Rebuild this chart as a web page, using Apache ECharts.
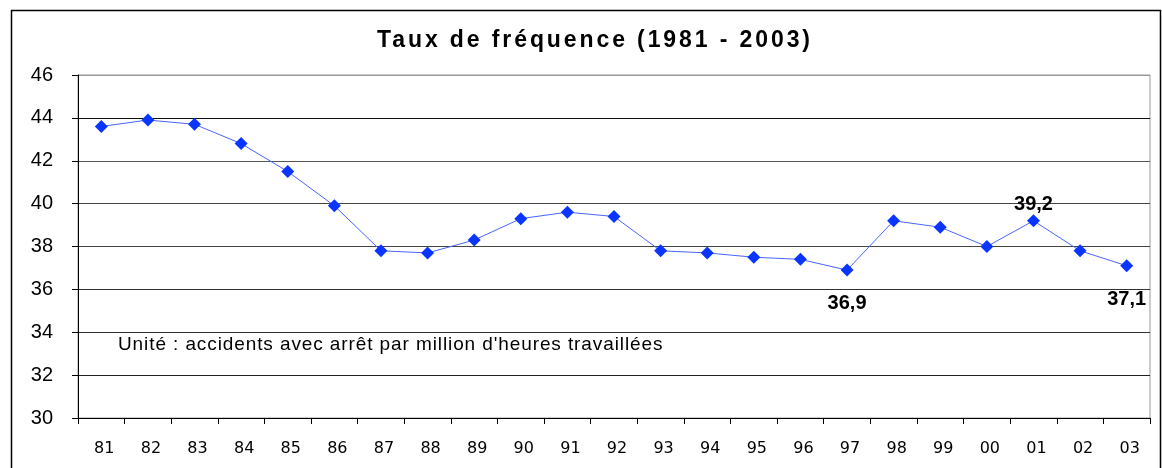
<!DOCTYPE html>
<html>
<head>
<meta charset="utf-8">
<script src="https://cdn.jsdelivr.net/npm/echarts@6/dist/echarts.min.js"></script>
<style>
html,body{margin:0;padding:0;background:#fff;}
#c{width:1162px;height:468px;}
</style>
</head>
<body>
<div id="c"></div>
<script>
const categories = ['81','82','83','84','85','86','87','88','89','90','91','92','93','94','95','96','97','98','99','00','01','02','03'];
const values = [43.6,43.9,43.7,42.8,41.5,39.9,37.8,37.7,38.3,39.3,39.6,39.4,37.8,37.7,37.5,37.4,36.9,39.2,38.9,38.0,39.2,37.8,37.1];
const labelledBelow = ['97','03'];
const labelledAbove = ['01'];
const titleText = 'Taux de fréquence (1981 - 2003)';
const noteText = "Unité : accidents avec arrêt par million d'heures travaillées";

// Emulate the wider letter spacing of the original rendering for the title and the note.
(function () {
  const proto = CanvasRenderingContext2D.prototype;
  if (!('letterSpacing' in proto)) return;
  const orig = proto.fillText;
  proto.fillText = function (t, x, y, w) {
    const f = this.font || '';
    const prev = this.letterSpacing;
    if (f.indexOf('bold') >= 0 && f.indexOf('23px') >= 0) this.letterSpacing = '2.9px';
    else if (f.indexOf('19px') >= 0) this.letterSpacing = '0.9px';
    else this.letterSpacing = '0px';
    const r = w === undefined ? orig.call(this, t, x, y) : orig.call(this, t, x, y, w);
    this.letterSpacing = prev;
    return r;
  };
})();

const fmt = v => v.toFixed(1).replace('.', ',');
const seriesData = values.map((v, i) => {
  const c = categories[i];
  if (labelledBelow.includes(c)) {
    return {value: v, label: {show: true, position: 'bottom', distance: 17}};
  }
  if (labelledAbove.includes(c)) {
    return {value: v, label: {show: true, position: 'top', distance: 0}};
  }
  return v;
});

const chart = echarts.init(document.getElementById('c'), null, {renderer: 'canvas'});
chart.setOption({
  backgroundColor: '#fff',
  animation: false,
  title: {
    text: titleText,
    left: 372,
    top: 24,
    textStyle: {fontFamily: 'Liberation Sans', fontWeight: 'bold', fontSize: 23, color: '#000'}
  },
  graphic: [
    {type: 'rect', left: 9, top: 8, shape: {width: 1149, height: 470}, style: {fill: 'none', stroke: '#000', lineWidth: 1.5}, z: 100},
    {type: 'text', left: 118, top: 335, style: {text: noteText, font: '19px "Liberation Sans"', fill: '#000'}, z: 100}
  ],
  grid: {left: 78, right: 12, top: 75, bottom: 50, show: true, borderColor: '#999', borderWidth: 1, containLabel: false},
  xAxis: {
    type: 'category',
    data: categories,
    boundaryGap: true,
    axisLine: {lineStyle: {color: '#000', width: 1}},
    axisTick: {show: true, inside: false, length: 6, lineStyle: {color: '#000'}},
    axisLabel: {margin: 23, padding: [0, 0, 0, 6], fontFamily: 'DejaVu Sans', fontSize: 16, color: '#000'},
    splitLine: {show: false}
  },
  yAxis: {
    type: 'value',
    min: 30, max: 46, interval: 2,
    axisLine: {show: true, lineStyle: {color: '#000', width: 1}},
    axisTick: {show: true, inside: false, length: 6, lineStyle: {color: '#000'}},
    axisLabel: {margin: 25, fontFamily: 'Liberation Sans', fontSize: 20, color: '#000'},
    splitLine: {show: true, lineStyle: {color: ['#000','#222','#333','#333','#444','#444','#555','#111','#999'], width: 1}}
  },
  series: [{
    type: 'line',
    data: seriesData,
    symbol: 'diamond',
    symbolSize: 13,
    itemStyle: {color: '#0a35ff'},
    lineStyle: {color: '#4a66ff', width: 1},
    label: {show: false, formatter: p => fmt(p.value), fontFamily: 'Liberation Sans', fontWeight: 'bold', fontSize: 20, color: '#000'}
  }]
});
</script>
</body>
</html>
